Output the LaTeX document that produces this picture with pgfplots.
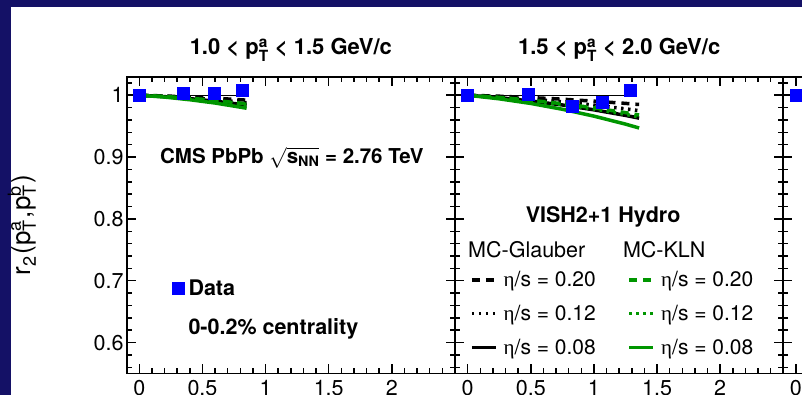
\documentclass[border=0pt]{standalone}
\usepackage{fontspec}
\setmainfont{TeX Gyre Heros}
\newfontfamily\symf{Liberation Serif}
\usepackage{amsmath}
\usepackage{pgfplots}
\pgfplotsset{compat=1.18}
\definecolor{navy}{RGB}{20,17,102}
\definecolor{rgreen}{RGB}{0,150,0}
\definecolor{rblue}{RGB}{0,0,255}
\newcommand{\sfs}[1]{{\fontsize{18}{18}\selectfont #1}}
\newcommand{\etaup}{{\symf η}}
\pgfplotsset{
 panel/.style={
  scale only axis, width=328.3pt, height=296.2pt,
  xmin=-0.1, xmax=2.5, ymin=0.55, ymax=1.029,
  xtick={0,0.5,1,1.5,2}, minor xtick={-0.1,0,...,2.5},
  ytick={0.6,0.7,0.8,0.9,1}, minor ytick={0.56,0.58,...,1.025},
  tick align=inside, xtick pos=both, ytick pos=both,
  major tick length=9pt, minor tick length=5pt,
  axis line style={line width=1.8pt},
  every tick/.append style={line width=1.5pt, black},
  /pgf/number format/assume math mode=true,
  tick label style={font=\fontsize{21.5}{21.5}\selectfont},
  xticklabel style={anchor=north, inner sep=0pt, yshift=-7pt},
  yticklabel style={anchor=east, inner sep=0pt, xshift=-3pt},
  anchor=south west,
  title style={font=\bfseries\fontsize{22}{22}\selectfont, anchor=base, at={(axis description cs:0.5,1.056)}, inner sep=0pt},
 },
 bsolid/.style={black, line width=3.5pt, forget plot},
 bdash/.style={black, line width=3.5pt, dash pattern=on 8pt off 6pt, forget plot},
 bdot/.style={black, line width=3.5pt, dash pattern=on 2.5pt off 4.5pt, forget plot},
 gsolid/.style={rgreen, line width=3.5pt, forget plot},
 gdash/.style={rgreen, line width=3.5pt, dash pattern=on 8pt off 6pt, forget plot},
 gdot/.style={rgreen, line width=3.5pt, dash pattern=on 2.5pt off 4.5pt, forget plot},
 data/.style={only marks, mark=square*, mark size=6pt, color=rblue},
 unity/.style={black, line width=1.2pt, forget plot},
}
\begin{document}
\begin{tikzpicture}[x=1pt,y=1pt]
\fill[navy] (0,0) rectangle (802,395);
\fill[white] (11,0) rectangle (802,388.3);
\begin{scope}
\clip (0,0) rectangle (802,395);
% ---------------- panel 1
\begin{axis}[panel, at={(126.7pt,21.5pt)},
  title={1.0 < $\text{p}^{\text{a}}_{\text{T}}$ < 1.5 GeV/c},
  ylabel={r\kern1pt\raisebox{-5pt}{\sfs{2}}\kern1.5pt(p\rlap{\raisebox{10pt}{\sfs{a}}}\raisebox{-5pt}{\sfs{T}}\kern1.5pt,\kern1pt p\rlap{\raisebox{10pt}{\sfs{b}}}\raisebox{-5pt}{\sfs{T}}\kern1.5pt)},
  ylabel style={font=\fontsize{26}{26}\selectfont, at={(axis description cs:-0.292,0.5)}, anchor=base, inner sep=0pt},
  legend style={draw=none, fill=none, inner sep=0pt, at={(axis description cs:0.1389,0.2876)}, anchor=west,
    nodes={inner sep=0pt, font=\bfseries\fontsize{21.5}{21.5}\selectfont}, cells={anchor=west}},
  legend image code/.code={\draw[#1] plot coordinates {(6pt,0pt)};},
  /tikz/every odd column/.append style={column sep=4pt},
]
\addplot[data] coordinates {(0,1.000) (0.344,1.003) (0.592,1.003) (0.811,1.0085)};
\addlegendentry{Data}
\addplot[unity] coordinates {(0,1) (0.811,1)};
\addplot[bdash] coordinates {(0,1) (0.2,0.9988) (0.4,0.9972) (0.6,0.9952) (0.85,0.992)};
\addplot[bdot] coordinates {(0,1) (0.2,0.9983) (0.4,0.9958) (0.6,0.9928) (0.85,0.988)};
\addplot[bsolid] coordinates {(0,1) (0.2,0.9977) (0.4,0.9945) (0.6,0.9904) (0.85,0.984)};
\addplot[gdash] coordinates {(0,1) (0.2,0.998) (0.4,0.9952) (0.6,0.9916) (0.85,0.986)};
\addplot[gdot] coordinates {(0,1) (0.2,0.9978) (0.4,0.9948) (0.6,0.991) (0.85,0.985)};
\addplot[gsolid] coordinates {(0,1) (0.2,0.997) (0.4,0.9927) (0.6,0.9874) (0.85,0.979)};
\node[anchor=base, inner sep=0pt, font=\bfseries\fontsize{20.5}{20.5}\selectfont] at (axis cs:1.208,0.8903)
  {CMS PbPb $\sqrt{\text{s}_{\text{NN}}}$ = 2.76 TeV};
\node[anchor=base west, inner sep=0pt, font=\bfseries\fontsize{21.5}{21.5}\selectfont] at (axis cs:0.388,0.6134)
  {0-0.2\% centrality};
\end{axis}
% ---------------- panel 2
\begin{axis}[panel, at={(455pt,21.5pt)}, yticklabels={},
  title={1.5 < $\text{p}^{\text{a}}_{\text{T}}$ < 2.0 GeV/c},
  legend columns=2,
  legend style={draw=none, fill=none, inner sep=0pt, at={(axis description cs:0.0457,0.3444)}, anchor=north west,
    row sep=16.8pt, nodes={inner sep=0pt, font=\fontsize{21}{21}\selectfont}, cells={anchor=west}},
  legend image code/.code={\draw[#1] (0pt,0pt) -- (24pt,0pt);},
  /tikz/every odd column/.append style={column sep=6pt},
]
\addplot[data, forget plot] coordinates {(0,1.000) (0.481,1.0016) (0.825,0.983) (1.067,0.989) (1.287,1.0085)};
\addplot[unity] coordinates {(0,1) (1.287,1)};
\addplot[bdash] coordinates {(0,1) (0.25,0.9984) (0.5,0.9962) (0.75,0.9936) (1.0,0.9904) (1.25,0.9868) (1.358,0.985)};
\addplot[bdot] coordinates {(0,1) (0.25,0.9973) (0.5,0.9937) (0.75,0.9893) (1.0,0.984) (1.25,0.978) (1.358,0.975)};
\addplot[bsolid] coordinates {(0,1) (0.25,0.996) (0.5,0.9907) (0.75,0.9842) (1.0,0.9764) (1.25,0.9674) (1.358,0.963)};
\addplot[gdash] coordinates {(0,1) (0.25,0.9965) (0.5,0.9919) (0.75,0.9863) (1.0,0.9796) (1.25,0.9718) (1.358,0.968)};
\addplot[gdot] coordinates {(0,1) (0.25,0.9962) (0.5,0.9912) (0.75,0.985) (1.0,0.9777) (1.25,0.9691) (1.358,0.965)};
\addplot[gsolid] coordinates {(0,1) (0.25,0.9942) (0.5,0.9867) (0.75,0.9773) (1.0,0.9662) (1.25,0.9533) (1.358,0.947)};
\addlegendimage{black, line width=3.5pt, dash pattern=on 8pt off 6pt}
\addlegendentry{\makebox[124pt][l]{\etaup/s = 0.20}}
\addlegendimage{rgreen, line width=3.5pt, dash pattern=on 8pt off 6pt}
\addlegendentry{\etaup/s = 0.20}
\addlegendimage{black, line width=3.5pt, dash pattern=on 2.5pt off 4.5pt}
\addlegendentry{\makebox[124pt][l]{\etaup/s = 0.12}}
\addlegendimage{rgreen, line width=3.5pt, dash pattern=on 2.5pt off 4.5pt}
\addlegendentry{\etaup/s = 0.12}
\addlegendimage{black, line width=3.5pt}
\addlegendentry{\makebox[124pt][l]{\etaup/s = 0.08}}
\addlegendimage{rgreen, line width=3.5pt}
\addlegendentry{\etaup/s = 0.08}
\node[anchor=base, inner sep=0pt, font=\bfseries\fontsize{21.5}{21.5}\selectfont] at (axis cs:1.073,0.7935) {VISH2+1 Hydro};
\node[anchor=base west, inner sep=0pt, font=\fontsize{21.5}{21.5}\selectfont] at (axis cs:0.003,0.737) {MC-Glauber};
\node[anchor=base west, inner sep=0pt, font=\fontsize{21.5}{21.5}\selectfont] at (axis cs:1.229,0.737) {MC-KLN};
\end{axis}
% ---------------- panel 3 (cut off)
\begin{axis}[panel, at={(783.3pt,21.5pt)}, yticklabels={},
  title={2.0 < $\text{p}^{\text{a}}_{\text{T}}$ < 2.5 GeV/c}]
\addplot[data, forget plot] coordinates {(0,1.000)};
\addplot[bsolid] coordinates {(0,1) (0.25,0.996) (0.5,0.990)};
\addplot[gsolid] coordinates {(0,1) (0.25,0.994) (0.5,0.986)};
\end{axis}
\end{scope}
\pgfresetboundingbox
\useasboundingbox (0,0) rectangle (802,395);
\end{tikzpicture}
\end{document}
